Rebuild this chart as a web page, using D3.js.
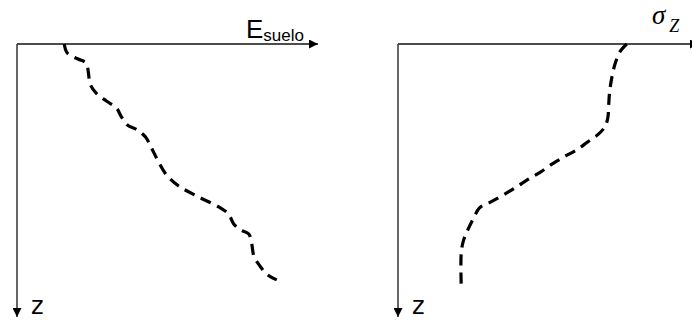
<!DOCTYPE html>
<html>
<head>
<meta charset="utf-8">
<script src="https://cdn.jsdelivr.net/npm/d3@7"></script>
<style>
  body { margin: 0; background: #fff; }
  svg { display: block; }
</style>
</head>
<body>
<svg id="chart" width="692" height="320"></svg>
<script>
// soil modulus profile (value %, depth %)
var eSueloValue = [15.7, 16.7, 20.3, 23, 23.7, 24.3, 26.3, 29.7, 33, 34.7, 36.7, 40, 42.7, 44.7, 46.7, 49.7, 53.7, 60.3, 67.7, 70.3, 72, 74.3, 77, 78, 78.7, 80.7, 83.3, 86.3]
var eSueloDepth = [0, 3.3, 5.5, 7, 10.3, 14.7, 18, 20.9, 23.4, 26.7, 29.7, 31.5, 34.1, 38.1, 42.5, 48, 52, 56, 60.1, 62.3, 65.9, 68.1, 69.6, 73.3, 77.7, 81.3, 84.6, 86.4]

// vertical stress profile (value %, depth %)
var sigmaValue = [76, 73.7, 72, 71, 70.3, 70, 69.7, 68.7, 66.3, 63, 59.3, 55.7, 51.7, 47.3, 43.3, 39.3, 35, 30.7, 27, 25.3, 23.3, 21.7, 21, 21]
var sigmaDepth = [0, 2.9, 7.7, 12.5, 17.6, 22.3, 27.1, 30.4, 33.3, 35.9, 38.8, 41, 43.6, 46.9, 49.5, 52.4, 55.3, 57.9, 60.1, 63.4, 67.8, 72.2, 76.6, 88.6]

var panels = [
  {left: 17, value: eSueloValue, depth: eSueloDepth, label: "E", sub: "suelo", serif: false},
  {left: 398, value: sigmaValue, depth: sigmaDepth, label: "σ", sub: "Z", serif: true}
]

var axisTop = 44, axisLen = 301, depthLen = 273

var svg = d3.select("#chart")

svg.append("defs").append("marker")
  .attr("id", "arrow")
  .attr("viewBox", "0 0 10 10")
  .attr("refX", 10).attr("refY", 5)
  .attr("markerWidth", 7).attr("markerHeight", 6)
  .attr("markerUnits", "strokeWidth")
  .attr("orient", "auto")
  .append("path")
  .attr("d", "M0,0L10,5L0,10Z")
  .attr("fill", "#000")

panels.forEach(function(p) {
  var x = d3.scaleLinear().domain([0, 100]).range([p.left, p.left + axisLen])
  var y = d3.scaleLinear().domain([0, 100]).range([axisTop, axisTop + depthLen])
  var g = svg.append("g")

  // horizontal axis
  g.append("line")
    .attr("x1", x(0)).attr("y1", y(0))
    .attr("x2", x(100)).attr("y2", y(0))
    .attr("stroke", "#111").attr("stroke-width", 1.5)
    .attr("marker-end", "url(#arrow)")

  // depth axis
  g.append("line")
    .attr("x1", x(0)).attr("y1", y(0))
    .attr("x2", x(0)).attr("y2", y(100))
    .attr("stroke", "#333").attr("stroke-width", 1.5)
    .attr("marker-end", "url(#arrow)")

  var pts = p.value.map(function(v, i) { return [v, p.depth[i]] })
  var line = d3.line()
    .curve(d3.curveCatmullRom.alpha(0.5))
    .x(function(d) { return x(d[0]) })
    .y(function(d) { return y(d[1]) })

  g.append("path")
    .datum(pts)
    .attr("d", line)
    .attr("fill", "none")
    .attr("stroke", "#000")
    .attr("stroke-width", 3.2)
    .attr("stroke-dasharray", "11,7")

  // axis labels
  if (p.serif) {
    var t = g.append("text")
      .attr("x", x(100) - 47).attr("y", 24)
      .attr("font-family", "Liberation Serif, Times New Roman, serif")
      .attr("font-style", "italic")
    t.append("tspan").attr("font-size", 27).text(p.label)
    t.append("tspan").attr("font-size", 18).attr("dx", 4).attr("dy", 8).text(p.sub)
  } else {
    var t2 = g.append("text")
      .attr("x", x(100) - 72).attr("y", 38)
      .attr("font-family", "Liberation Sans, Arial, sans-serif")
    t2.append("tspan").attr("font-size", 26).text(p.label)
    t2.append("tspan").attr("font-size", 17).attr("dy", 3).text(p.sub)
  }

  g.append("text")
    .attr("x", x(0) + 14).attr("y", 314)
    .attr("font-family", "DejaVu Sans, sans-serif")
    .attr("font-size", 24)
    .text("z")
})
</script>
</body>
</html>
